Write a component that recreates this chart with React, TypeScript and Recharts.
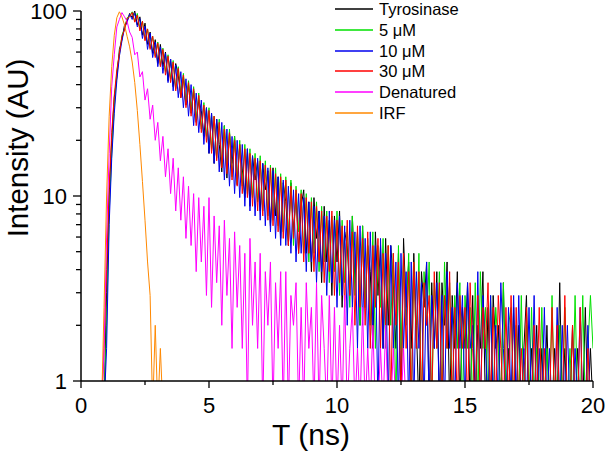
import { LineChart, Line, XAxis, YAxis, Legend, Label } from "recharts";

const FONT = '"Liberation Sans", Arial, sans-serif';

// time channels (ns)
const times = [
  0.8, 0.9,
  1, 1.1, 1.2, 1.3, 1.4, 1.5, 1.6, 1.7, 1.8, 1.9,
  2, 2.1, 2.2, 2.3, 2.4, 2.5, 2.6, 2.7, 2.8, 2.9,
  3, 3.1, 3.2, 3.3, 3.4, 3.5, 3.6, 3.7, 3.8, 3.9,
  4, 4.1, 4.2, 4.3, 4.4, 4.5, 4.6, 4.7, 4.8, 4.9,
  5, 5.1, 5.2, 5.3, 5.4, 5.5, 5.6, 5.7, 5.8, 5.9,
  6, 6.1, 6.2, 6.3, 6.4, 6.5, 6.6, 6.7, 6.8, 6.9,
  7, 7.1, 7.2, 7.3, 7.4, 7.5, 7.6, 7.7, 7.8, 7.9,
  8, 8.1, 8.2, 8.3, 8.4, 8.5, 8.6, 8.7, 8.8, 8.9,
  9, 9.1, 9.2, 9.3, 9.4, 9.5, 9.6, 9.7, 9.8, 9.9,
  10, 10.1, 10.2, 10.3, 10.4, 10.5, 10.6, 10.7, 10.8, 10.9,
  11, 11.1, 11.2, 11.3, 11.4, 11.5, 11.6, 11.7, 11.8, 11.9,
  12, 12.1, 12.2, 12.3, 12.4, 12.5, 12.6, 12.7, 12.8, 12.9,
  13, 13.1, 13.2, 13.3, 13.4, 13.5, 13.6, 13.7, 13.8, 13.9,
  14, 14.1, 14.2, 14.3, 14.4, 14.5, 14.6, 14.7, 14.8, 14.9,
  15, 15.1, 15.2, 15.3, 15.4, 15.5, 15.6, 15.7, 15.8, 15.9,
  16, 16.1, 16.2, 16.3, 16.4, 16.5, 16.6, 16.7, 16.8, 16.9,
  17, 17.1, 17.2, 17.3, 17.4, 17.5, 17.6, 17.7, 17.8, 17.9,
  18, 18.1, 18.2, 18.3, 18.4, 18.5, 18.6, 18.7, 18.8, 18.9,
  19, 19.1, 19.2, 19.3, 19.4, 19.5, 19.6, 19.7, 19.8, 19.9,
  20,
];

// normalised intensity (AU); 0.7 = channel below the axis floor
const tyrosinase = [
  0.7, 0.7,
  3, 10, 20, 34, 44, 62, 70, 84, 88, 97,
  92, 100, 84, 93, 74, 86, 66, 77, 59, 70,
  52, 66, 50, 60, 42, 55, 39, 52, 45, 34,
  44, 31, 40, 28, 37, 25, 33, 29, 21, 30,
  17, 28, 15, 26, 19, 13.5, 24, 12.5, 22, 15,
  21, 11.5, 19, 14, 9.8, 18, 8.8, 16.5, 12.2, 15.5,
  8.3, 15, 10.8, 13.7, 6.9, 14.2, 7.8, 12.7, 5.9, 11.8,
  9.3, 5.4, 11.8, 6.4, 10.3, 4.9, 8.8, 10.8, 4.9, 9.3,
  3.9, 9.8, 5.9, 8.3, 3.4, 8.8, 4.4, 7.4, 2.9, 7.8,
  4.4, 8.3, 2.5, 6.4, 5.4, 2.9, 7.8, 3.4, 6.4, 2,
  6.9, 2.5, 5.4, 3.9, 1.5, 6.4, 2.9, 5.4, 1.5, 5.9,
  2, 5.4, 3.4, 1.5, 4.9, 0.7, 5.9, 2.5, 4.4, 1.5,
  4.9, 2, 0.7, 3.9, 2.5, 4.4, 0.7, 3.4, 1.5, 3.9,
  0.7, 3.4, 2, 4.4, 0.7, 2.9, 1.5, 3.9, 0.7, 2.5,
  1.5, 3.4, 0.7, 2.9, 0.7, 2, 1.5, 3.9, 0.7, 2.5,
  0.7, 2.9, 1.5, 2, 0.7, 3.4, 0.7, 1.5, 0.7, 2.5,
  0.7, 2, 0.7, 1.5, 2.9, 0.7, 1.5, 0.7, 2, 0.7,
  1.5, 0.7, 2, 0.7, 0.7, 1.5, 0.7, 3.4, 0.7, 1.5,
  0.7, 0.7, 2, 0.7, 1.5, 0.7, 0.7, 2.5, 0.7, 1.5,
  0.7,
];

const um5 = [
  0.7, 0.7,
  2, 8, 17, 30, 47, 58, 74, 80, 92, 94,
  99, 88, 97, 80, 88, 70, 80, 63, 73, 57,
  68, 51, 63, 47, 58, 43, 54, 38, 50, 36,
  46, 32, 42, 29, 39, 26, 36, 23, 32, 21,
  30, 18, 27, 16, 26, 14.5, 24, 13.5, 23, 12.7,
  21, 11.8, 20, 11.3, 19, 10.3, 18, 9.8, 17, 9.3,
  16.5, 8.3, 15.5, 7.8, 14.7, 7.4, 14.2, 6.9, 13.2, 6.4,
  12.7, 5.9, 12.2, 5.4, 11.3, 6.4, 10.8, 4.9, 10.3, 4.4,
  9.8, 4.9, 9.3, 3.9, 8.8, 4.4, 8.3, 3.4, 7.8, 3.9,
  8.3, 2.9, 7.4, 3.4, 6.9, 2.5, 7.8, 2.9, 6.4, 2,
  6.9, 2.5, 5.9, 2, 6.4, 1.5, 5.4, 2.5, 5.9, 1.5,
  5.4, 2, 4.9, 0.7, 5.4, 1.5, 4.4, 2, 4.9, 0.7,
  4.4, 1.5, 4.9, 0.7, 3.9, 2, 4.4, 0.7, 3.4, 1.5,
  3.9, 0.7, 4.4, 1.5, 3.4, 0.7, 2.9, 1.5, 3.4, 0.7,
  2.9, 1.5, 2.5, 0.7, 3.4, 0.7, 3.9, 1.5, 2.5, 0.7,
  2.9, 0.7, 2.5, 1.5, 0.7, 3.4, 0.7, 2, 2.5, 0.7,
  2, 0.7, 2.9, 0.7, 2, 0.7, 2.5, 0.7, 1.5, 0.7,
  2.5, 0.7, 1.5, 0.7, 2.9, 0.7, 0.7, 2, 0.7, 2.5,
  0.7, 1.5, 0.7, 2.9, 0.7, 0.7, 2.9, 0.7, 1.5, 2.9,
  1.5,
];

const um10 = [
  0.7, 0.7,
  1.5, 7, 16, 28, 42, 57, 69, 81, 87, 96,
  90, 97, 82, 91, 71, 83, 62, 76, 56, 68,
  50, 64, 46, 59, 41, 55, 37, 51, 34, 47,
  30, 43, 27, 40, 24, 36, 22, 33, 19, 30,
  17, 28, 15, 26, 13.5, 25, 12.2, 23, 11.3, 21,
  10.3, 20, 9.8, 19, 8.8, 18, 8.3, 16.5, 7.8, 16,
  7.4, 15, 6.9, 14.2, 6.4, 13.7, 5.9, 12.7, 5.4, 12.2,
  5.4, 11.3, 4.9, 10.8, 4.4, 10.3, 4.9, 9.8, 3.9, 9.3,
  4.4, 8.8, 3.4, 8.3, 3.9, 7.8, 2.9, 8.3, 3.4, 7.4,
  2.5, 7.8, 2.9, 6.9, 2, 7.4, 2.5, 6.4, 1.5, 6.9,
  2, 5.9, 1.5, 6.4, 2, 5.4, 0.7, 5.9, 1.5, 4.9,
  0.7, 5.4, 1.5, 4.4, 0.7, 4.9, 1.5, 3.9, 0.7, 4.4,
  0.7, 3.9, 1.5, 3.4, 0.7, 4.4, 0.7, 2.9, 1.5, 3.4,
  0.7, 2.9, 0.7, 3.9, 1.5, 2.5, 0.7, 3.4, 1.5, 2.9,
  0.7, 3.4, 1.5, 2, 0.7, 3.9, 0.7, 2.9, 1.5, 0.7,
  2.9, 0.7, 2, 0.7, 3.4, 1.5, 0.7, 2.5, 0.7, 2.9,
  0.7, 2.9, 0.7, 1.5, 0.7, 2.5, 0.7, 2.9, 0.7, 1.5,
  0.7, 2.5, 0.7, 1.5, 0.7, 0.7, 2.5, 0.7, 2, 0.7,
  2, 0.7, 0.7, 1.5, 0.7, 2.5, 0.7, 0.7, 2, 0.7,
  0.7,
];

const um30 = [
  0.7, 1.5,
  4, 11, 22, 35, 48, 59, 73, 79, 91, 93,
  98, 87, 95, 78, 88, 69, 80, 62, 73, 56,
  67, 50, 62, 45, 57, 41, 53, 37, 49, 34,
  45, 30, 41, 27, 38, 24, 35, 22, 31, 19.5,
  29, 17, 27, 15.5, 25, 14.2, 23, 13.2, 22, 12.2,
  20, 11.3, 19, 10.3, 18, 9.8, 17, 8.8, 16, 8.3,
  15.5, 7.8, 14.7, 7.4, 14.2, 6.9, 13.2, 6.4, 12.7, 5.9,
  12.2, 5.4, 11.3, 5.9, 10.8, 4.9, 10.3, 4.4, 9.8, 4.9,
  9.3, 3.9, 8.8, 4.4, 8.3, 3.4, 7.8, 3.9, 8.3, 2.9,
  7.4, 3.4, 6.9, 2.5, 7.4, 2.9, 6.4, 2, 6.9, 2.5,
  5.9, 2, 6.4, 1.5, 5.4, 2.5, 5.9, 1.5, 4.9, 2,
  5.4, 0.7, 4.9, 2, 4.4, 0.7, 4.9, 1.5, 3.9, 0.7,
  4.4, 1.5, 3.9, 0.7, 3.4, 2, 2.9, 0.7, 3.9, 1.5,
  3.4, 0.7, 2.9, 1.5, 3.9, 0.7, 2.5, 0.7, 2.9, 1.5,
  2.5, 0.7, 3.4, 1.5, 0.7, 2.9, 0.7, 2.5, 1.5, 3.4,
  0.7, 2.5, 0.7, 2.9, 1.5, 0.7, 2.5, 0.7, 2.9, 0.7,
  2.5, 0.7, 1.5, 0.7, 2.5, 0.7, 0.7, 2, 0.7, 2.5,
  0.7, 1.5, 0.7, 0.7, 2.5, 0.7, 2, 0.7, 0.7, 2.9,
  0.7, 0.7, 2, 0.7, 0.7, 2.5, 0.7, 0.7, 1.5, 0.7,
  0.7,
];

const denatured = [
  0.7, 1.5,
  6, 17, 39, 58, 82, 90, 98, 93, 88, 77,
  72, 58, 60, 44, 47, 33, 38, 26, 31, 20,
  25, 15.5, 21, 12.7, 18, 10.3, 16, 8.3, 14.2, 7.4,
  12.7, 5.9, 11.3, 5.4, 10.3, 3.9, 9.8, 4.4, 8.8, 2.9,
  9.8, 2.5, 7.8, 3.4, 6.9, 2, 7.4, 2.9, 5.9, 1.5,
  6.4, 2.5, 5.4, 1.5, 4.9, 0.7, 5.9, 2, 4.4, 1.5,
  4.9, 0.7, 3.9, 2, 4.4, 0.7, 3.4, 1.5, 3.9, 0.7,
  3.9, 0.7, 2.9, 2, 3.4, 0.7, 2.5, 0.7, 3.4, 1.5,
  2.5, 0.7, 3.4, 0.7, 2.9, 1.5, 0.7, 2.9, 0.7, 2.5,
  0.7, 2, 0.7, 2.9, 0.7, 1.5, 2.5, 0.7, 1.5, 0.7,
  2.5, 0.7, 1.5, 0.7, 2, 0.7, 0.7, 1.5, 0.7, 2,
  0.7, 0.7, 1.5, 0.7, 0.7, 0.7, 1.5, 0.7, 0.7, 0.7,
];

const irf = [
  0.7, 2.5,
  10, 27, 50, 74, 92, 99, 93, 84, 73, 64,
  53, 41, 29, 19, 12, 7.4, 4.4, 2.9, 0.7, 2,
  0.7, 1.5, 0.7,
];

const xTicks = [0, 2.5, 5, 7.5, 10, 12.5, 15, 17.5, 20];
const yTicks = [1, 2, 3, 4, 5, 6, 7, 8, 9, 10, 20, 30, 40, 50, 60, 70, 80, 90, 100];

const series = [
  { key: "tyr", name: "Tyrosinase", color: "#000000", values: tyrosinase },
  { key: "um5", name: "5 μM", color: "#00e000", values: um5 },
  { key: "um10", name: "10 μM", color: "#0000ee", values: um10 },
  { key: "um30", name: "30 μM", color: "#ff0000", values: um30 },
  { key: "den", name: "Denatured", color: "#ff00ff", values: denatured },
  { key: "irf", name: "IRF", color: "#ff8800", values: irf },
];

const rows = times.map((t, i) => {
  const row: Record<string, number | undefined> = { t };
  series.forEach((s) => {
    row[s.key] = s.values[i];
  });
  return row;
});

const XTick = ({ x, y, payload }: any) => {
  const major = payload.value % 5 === 0;
  return (
    <g>
      <line x1={x} x2={x} y1={y} y2={y + (major ? 7 : 4)} stroke="#000" strokeWidth={1.3} />
      {major && (
        <text x={x} y={y + 32} textAnchor="middle" fontSize={22} fontFamily={FONT} fill="#000">
          {payload.value}
        </text>
      )}
    </g>
  );
};

const YTick = ({ x, y, payload }: any) => {
  const v = payload.value;
  const major = v === 1 || v === 10 || v === 100;
  return (
    <g>
      <line x1={x - (major ? 8 : 5)} x2={x} y1={y} y2={y} stroke="#000" strokeWidth={1.3} />
      {major && (
        <text x={x - 14} y={y} dy="0.36em" textAnchor="end" fontSize={22} fontFamily={FONT} fill="#000">
          {v}
        </text>
      )}
    </g>
  );
};

// legend keeps the plotting order (Recharts would sort it by name)
const LegendBox = () => (
  <div style={{ fontFamily: FONT, fontSize: 16.5, color: "#000" }}>
    {series.map((s) => (
      <div key={s.key} style={{ display: "flex", alignItems: "center", height: 20.7 }}>
        <svg width={38} height={4} style={{ display: "block" }}>
          <line x1={0} x2={38} y1={2} y2={2} stroke={s.color} strokeWidth={1.5} />
        </svg>
        <span style={{ marginLeft: 6, lineHeight: "20px" }}>{s.name}</span>
      </div>
    ))}
  </div>
);

export default function App() {
  return (
    <div style={{ width: 607, height: 451, background: "#fff" }}>
      <style>{`body{margin:0;background:#fff}`}</style>
      <LineChart width={607} height={451} data={rows} margin={{ top: 11, right: 14, bottom: 0, left: 0 }}>
        <XAxis
          dataKey="t"
          type="number"
          domain={[0, 20]}
          ticks={xTicks}
          interval={0}
          allowDataOverflow
          height={70}
          tickSize={0}
          tickMargin={0}
          tickLine={false}
          tick={<XTick />}
          axisLine={{ stroke: "#000", strokeWidth: 1.5 }}
        >
          <Label
            value="T (ns)"
            position="insideBottom"
            offset={6}
            dx={-26}
            style={{ fontSize: 30, fontFamily: FONT, fill: "#000" }}
          />
        </XAxis>
        <YAxis
          scale="log"
          type="number"
          domain={[1, 100]}
          ticks={yTicks}
          interval={0}
          allowDataOverflow
          width={81}
          tickSize={0}
          tickMargin={0}
          tickLine={false}
          tick={<YTick />}
          axisLine={{ stroke: "#000", strokeWidth: 1.5 }}
        >
          <Label
            content={() => (
              <text
                x={27.5}
                y={148}
                transform="rotate(-90 27.5 148)"
                textAnchor="middle"
                fontSize={29.5}
                fontFamily={FONT}
                fill="#000"
              >
                Intensity (AU)
              </text>
            )}
          />
        </YAxis>
        <Legend
          layout="vertical"
          align="center"
          verticalAlign="middle"
          content={<LegendBox />}
          wrapperStyle={{ left: 335, top: -1, width: 200, height: 130 }}
        />
        {series.map((s) => (
          <Line
            key={s.key}
            dataKey={s.key}
            name={s.name}
            stroke={s.color}
            strokeWidth={1}
            dot={false}
            activeDot={false}
            type="linear"
            isAnimationActive={false}
          />
        ))}
      </LineChart>
    </div>
  );
}
